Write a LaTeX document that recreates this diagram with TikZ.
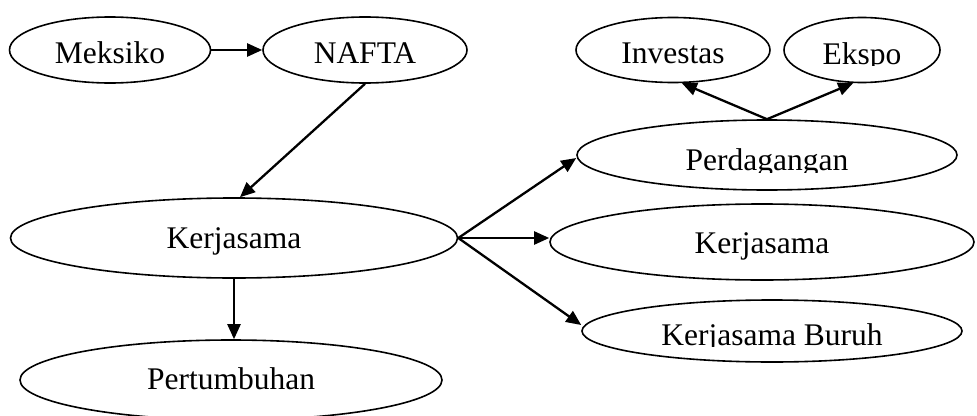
\documentclass[tikz,border=0pt]{standalone}
\usepackage{fontspec}
\setmainfont{Liberation Serif}
\usetikzlibrary{shapes.geometric,arrows.meta}
\begin{document}
\begin{tikzpicture}[x=1pt,y=-1pt,
  oval/.style={draw,ellipse,line width=1.6pt,inner sep=0pt},
  lbl/.style={anchor=base,inner sep=0pt,font=\fontsize{31.5}{36}\selectfont},
  arr/.style={line width=2.3pt,-{Triangle[length=15pt,width=13pt]}}]
\clip (0,0) rectangle (977,415);
% ellipses
\node[oval,minimum width=201pt,minimum height=66pt] (mek) at (110,50) {};
\node[oval,minimum width=204pt,minimum height=66pt] (naf) at (365,50) {};
\node[oval,minimum width=194pt,minimum height=65pt] (inv) at (673,50) {};
\node[oval,minimum width=156pt,minimum height=65pt] (eks) at (862,50) {};
\node[oval,minimum width=380pt,minimum height=70pt] (per) at (767,155) {};
\node[oval,minimum width=447pt,minimum height=80pt] (kl) at (234,238) {};
\node[oval,minimum width=424pt,minimum height=76pt] (kr) at (762,242) {};
\node[oval,minimum width=380pt,minimum height=62pt] (bur) at (772,331) {};
\node[oval,minimum width=422pt,minimum height=80pt] (pert) at (231,380) {};
% labels
\node[lbl] (mek-t) at (110,63) {Meksiko};
\node[lbl] (naf-t) at (365,63) {NAFTA};
\node[lbl] (inv-t) at (673,63) {Investas};
\begin{scope}
  \clip (780,0) rectangle (945,65);
  \node[lbl] (eks-t) at (862,64) {Ekspo};
\end{scope}
\begin{scope}
  \clip (590,120) rectangle (950,172);
  \node[lbl] (per-t) at (767,170) {Perdagangan};
\end{scope}
\node[lbl] (kl-t) at (234,248) {Kerjasama};
\node[lbl] (kr-t) at (762,253) {Kerjasama};
\begin{scope}
  \clip (590,300) rectangle (960,346);
  \node[lbl] (bur-t) at (772,345) {Kerjasama Buruh};
\end{scope}
\node[lbl] (pert-t) at (231,389) {Pertumbuhan};
% connectors
\draw[arr] (mek.east) -- (naf.west);
\draw[arr] (naf.south) -- ([xshift=6pt]kl.north);
\draw[arr] (kl.south) -- (kl.south |- pert.north);
\draw[arr] (kl.east) -- ([yshift=-3pt]per.west);
\draw[arr] (kl.east) -- (kl.east -| kr.west);
\draw[arr] (kl.east) -- ([yshift=6pt]bur.west);
\draw[arr] (per.north) -- (inv.-75);
\draw[arr] (per.north) -- (eks.-105);
\end{tikzpicture}
\end{document}
